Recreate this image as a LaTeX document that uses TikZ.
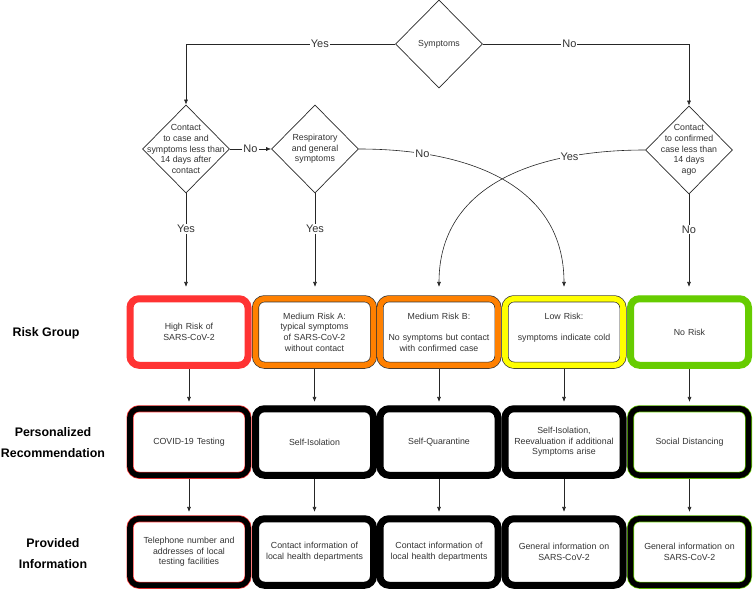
\documentclass[tikz,border=0pt]{standalone}
\usepackage{fontspec}
\setmainfont{Liberation Sans}
\usetikzlibrary{shapes.geometric,arrows.meta}

\definecolor{riskred}{RGB}{255,51,51}
\definecolor{riskorange}{RGB}{255,128,0}
\definecolor{riskyellow}{RGB}{255,255,0}
\definecolor{riskgreen}{RGB}{102,204,0}
\definecolor{txtgray}{RGB}{51,51,51}

\tikzset{
  decision/.style={diamond, draw=black!85, line width=0.7pt, minimum width=87pt, minimum height=88pt, inner sep=0pt},
  dtext/.style={font=\fontsize{8.8}{10.7}\selectfont, text=txtgray, align=center},
  riskbox/.style 2 args={rectangle, rounded corners=9pt, draw=#1, double=#2, line width=0.7pt, double distance=5.6pt,
    minimum width=118pt, minimum height=66.5pt, text width=108pt, align=center, outer sep=3.8pt,
    font=\fontsize{8.8}{10.7}\selectfont, text=txtgray},
  rowlabel/.style={font=\bfseries\fontsize{12.4}{21}\selectfont, align=center},
  elabel/.style={fill=white, inner sep=1pt, font=\fontsize{11}{12}\selectfont, text=txtgray},
  arr/.style={-{Latex[length=5pt,width=4pt]}, draw=black!85, line width=0.6pt}
}

\begin{document}
\begin{tikzpicture}[x=1pt, y=-1pt]
  \useasboundingbox (0,0) rectangle (753,591);

  % rombi di decisione
  \node[decision, label={[dtext]center:Symptoms}] (sym) at (439,44) {};
  \node[decision, label={[dtext]center:{Contact\\to case and\\symptoms less than\\14 days after\\contact}}] (contact) at (186,149) {};
  \node[decision, label={[dtext]center:{Respiratory\\and general\\symptoms}}] (resp) at (315,149) {};
  \node[decision, label={[dtext]center:{Contact\\to confirmed\\case less than\\14 days\\ago}}] (nocontact) at (689,150) {};

  % etichette delle righe
  \node[rowlabel] (lrisk) at (46,333) {Risk Group};
  \node[rowlabel] (lrec) at (53,443) {Personalized\\Recommendation};
  \node[rowlabel] (linfo) at (53,554) {Provided\\Information};

  % riga 1: gruppi di rischio
  \node[riskbox={riskred}{riskred}] (high) at (189,332) {High Risk of\\SARS-CoV-2};
  \node[riskbox={txtgray}{riskorange}] (meda) at (314.5,332) {Medium Risk A:\\typical symptoms\\of SARS-CoV-2\\without contact};
  \node[riskbox={txtgray}{riskorange}] (medb) at (439,332) {Medium Risk B:\\\mbox{}\\No symptoms but contact\\with confirmed case};
  \node[riskbox={txtgray}{riskyellow}] (low) at (564,332) {Low Risk:\\\mbox{}\\symptoms indicate cold\\\mbox{}};
  \node[riskbox={riskgreen}{riskgreen}] (norisk) at (689.5,332) {No Risk};

  % riga 2: raccomandazioni
  \node[riskbox={riskred}{black}] (covid) at (189,442) {COVID-19 Testing};
  \node[riskbox={black}{black}] (isol) at (314.5,442) {Self-Isolation};
  \node[riskbox={black}{black}] (quar) at (439,442) {Self-Quarantine};
  \node[riskbox={black}{black}] (reeval) at (564,442) {Self-Isolation,\\Reevaluation if additional\\Symptoms arise};
  \node[riskbox={riskgreen}{black}] (dist) at (689.5,442) {Social Distancing};

  % riga 3: informazioni fornite
  \node[riskbox={riskred}{black}] (phone) at (189,552) {Telephone number and\\addresses of local\\testing facilities};
  \node[riskbox={black}{black}] (deptA) at (314.5,552) {Contact information of\\local health departments};
  \node[riskbox={black}{black}] (deptB) at (439,552) {Contact information of\\local health departments};
  \node[riskbox={black}{black}] (geninfA) at (564,552) {General information on\\SARS-CoV-2};
  \node[riskbox={riskgreen}{black}] (geninfB) at (689.5,552) {General information on\\SARS-CoV-2};

  % frecce dai rombi
  \draw[arr] (sym.west) -| node[elabel, pos=0.18] {Yes} (contact.north);
  \draw[arr] (sym.east) -| node[elabel, pos=0.21] {No} (nocontact.north);
  \draw[arr] (contact.east) -- node[elabel] {No} (resp.west);
  \draw[arr, shorten >=8pt] (contact.south) -- node[elabel, pos=0.35] {Yes} (contact.south |- high.north);
  \draw[arr, shorten >=8pt] (resp.south) -- node[elabel, pos=0.35] {Yes} (resp.south |- meda.north);
  \draw[arr, shorten >=8pt] (nocontact.south) -- node[elabel, pos=0.35] {No} (nocontact.south |- norisk.north);
  \draw[arr, shorten >=8pt] (resp.east) .. controls +(110,0) and +(0,-110) .. node[elabel, pos=0.2] {No} (low.north);
  \draw[arr, shorten >=8pt] (nocontact.west) .. controls +(-110,0) and +(0,-110) .. node[elabel, pos=0.24] {Yes} (medb.north);

  % frecce tra le righe
  \foreach \a/\b in {high/covid, meda/isol, medb/quar, low/reeval, norisk/dist,
                     covid/phone, isol/deptA, quar/deptB, reeval/geninfA, dist/geninfB}
    \draw[arr, shorten >=3pt] (\a.south) -- (\b.north);
\end{tikzpicture}
\end{document}
